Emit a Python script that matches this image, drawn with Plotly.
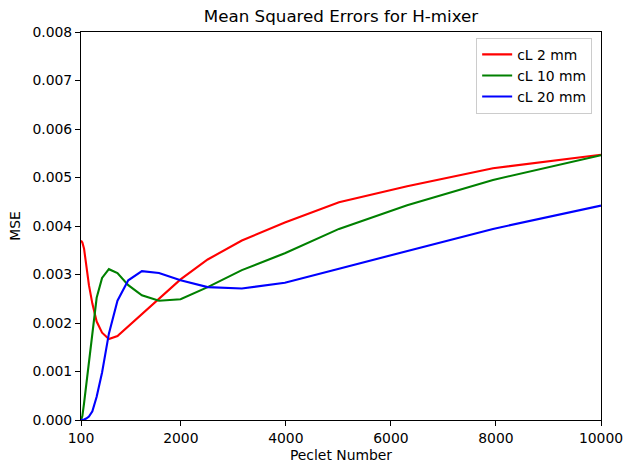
import plotly.graph_objects as go

peclet = [100, 125.9, 158.5, 199.5, 251.2, 316.2, 398.1, 501.2, 631.0, 794.3,
          1000, 1258.9, 1584.9, 1995.3, 2511.9, 3162.3, 3981.1, 5011.9, 6309.6, 7943.3, 10000]

mse_cl2 = [3.70, 3.66, 3.53, 3.15, 2.78, 2.40, 2.03, 1.80, 1.67, 1.73, 1.93,
           2.20, 2.51, 2.90, 3.31, 3.70, 4.07, 4.49, 4.82, 5.19, 5.47]
mse_cl10 = [0.00, 0.08, 0.35, 0.74, 1.18, 1.78, 2.52, 2.93, 3.11, 3.03, 2.78,
            2.57, 2.46, 2.49, 2.74, 3.09, 3.44, 3.94, 4.43, 4.95, 5.46]
mse_cl20 = [0.00, 0.00, 0.01, 0.03, 0.07, 0.18, 0.48, 0.98, 1.78, 2.46, 2.88,
            3.07, 3.03, 2.88, 2.74, 2.71, 2.83, 3.12, 3.48, 3.94, 4.42]

series_names = ["cL 2 mm", "cL 10 mm", "cL 20 mm"]
series_colors = ["#ff0000", "#008000", "#0000ff"]

x_ticks = [100, 2000, 4000, 6000, 8000, 10000]
y_ticks = [0.000, 0.001, 0.002, 0.003, 0.004, 0.005, 0.006, 0.007, 0.008]

FONT = "DejaVu Sans"

fig = go.Figure()
for name, color, vals in zip(series_names, series_colors, [mse_cl2, mse_cl10, mse_cl20]):
    fig.add_trace(go.Scatter(
        x=peclet, y=[v * 1e-3 for v in vals], mode="lines", name=name,
        line=dict(color=color, width=2.1),
    ))

axis_common = dict(
    showline=True, linecolor="black", linewidth=1, mirror=True,
    ticks="outside", ticklen=5, tickwidth=1, tickcolor="black",
    showgrid=False, zeroline=False, automargin=False,
    tickfont=dict(family=FONT, size=13.9, color="black"),
)

fig.update_layout(
    width=624, height=463,
    margin=dict(l=81, r=23, t=32, b=43),
    paper_bgcolor="white", plot_bgcolor="white",
    font=dict(family=FONT, color="black"),
    title=dict(text="Mean Squared Errors for H-mixer", x=0.5, xref="paper",
               y=1 - 16 / 463, yref="container", yanchor="middle",
               font=dict(family=FONT, size=16.7, color="black")),
    xaxis=dict(range=[100, 10000], tickvals=x_ticks, ticktext=[str(t) for t in x_ticks],
               title=dict(text="Peclet Number", font=dict(family=FONT, size=13.9), standoff=6),
               **axis_common),
    yaxis=dict(range=[0, 0.008], tickvals=y_ticks, tickformat=".3f",
               title=dict(text="MSE", font=dict(family=FONT, size=13.9), standoff=8),
               **axis_common),
    legend=dict(x=0.983, xanchor="right", y=0.985, yanchor="top",
                bordercolor="#cccccc", borderwidth=1, bgcolor="rgba(255,255,255,0.8)",
                font=dict(family=FONT, size=13.9, color="black"),
                tracegroupgap=0, itemwidth=30),
    showlegend=True,
)

fig.write_html("out.html")
